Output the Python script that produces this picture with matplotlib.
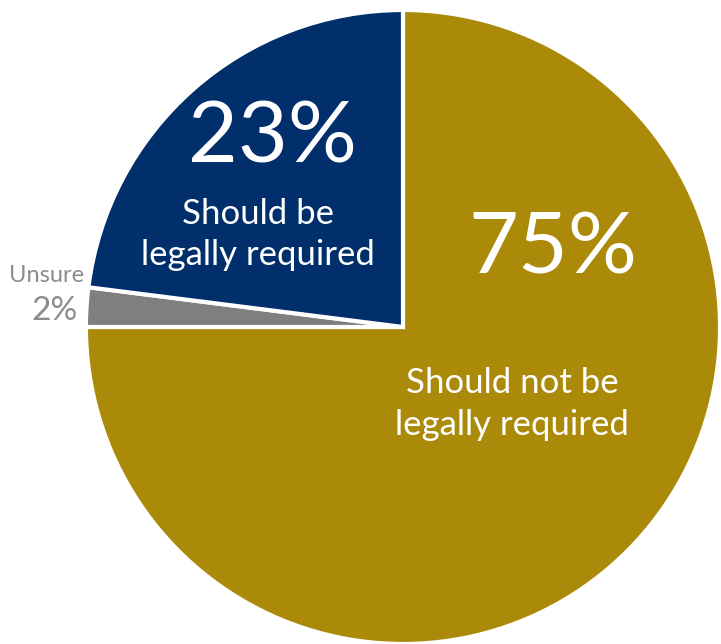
import matplotlib
matplotlib.use('Agg')
from matplotlib import pyplot as plt

labels = ['Should not be\nlegally required', 'Unsure', 'Should be\nlegally required']
values = [75, 2, 23]
pct_text = ['75%', '2%', '23%']
colors = ['#AB8A0A', '#7F7F7F', '#002F6C']

plt.rcParams['font.family'] = ['Lato', 'DejaVu Sans']

fig = plt.figure(figsize=(7.21, 6.44), dpi=100)
ax = fig.add_axes([0, 0, 1, 1])
ax.pie(values, colors=colors, startangle=90, counterclock=False,
       radius=1, wedgeprops=dict(edgecolor='white', linewidth=3))
ax.set_xlim(-1.271, 1.003)
ax.set_ylim(-1.0, 1.0315)
ax.set_aspect('auto')
ax.axis('off')

# big slice
ax.text(0.473, 0.243, pct_text[0], color='white', fontsize=62, ha='center', va='center')
ax.text(0.344, -0.243, labels[0], color='white', fontsize=25, ha='center', va='center',
        linespacing=1.35)
# navy slice
ax.text(-0.413, 0.596, pct_text[2], color='white', fontsize=62, ha='center', va='center')
ax.text(-0.457, 0.293, labels[2], color='white', fontsize=25, ha='center', va='center',
        linespacing=1.35)
# unsure
ax.text(-1.123, 0.164, labels[1], color='#8C8C8C', fontsize=17, ha='center', va='center')
ax.text(-1.098, 0.050, pct_text[1], color='#8C8C8C', fontsize=24, ha='center', va='center')

fig.savefig('out.png', dpi=100)
